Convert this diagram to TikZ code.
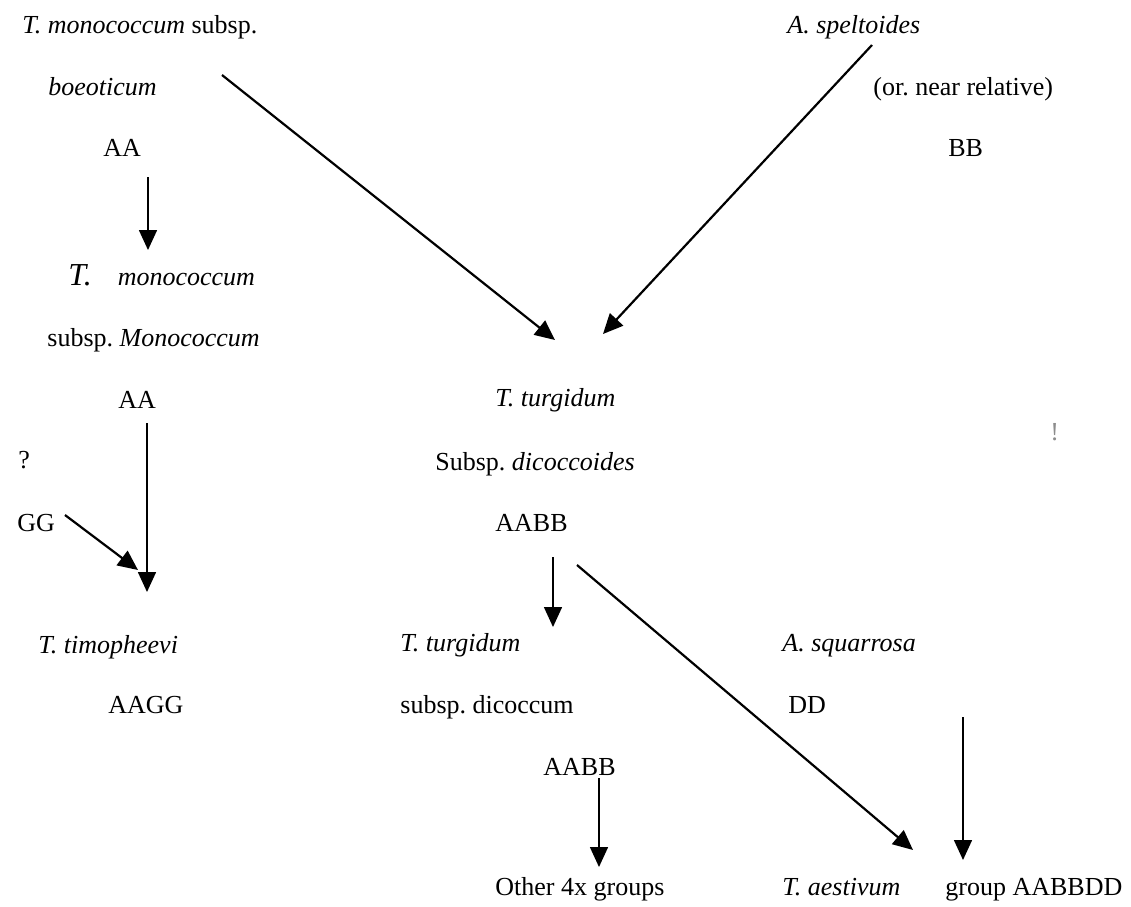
\documentclass[tikz,border=0pt]{standalone}
\usepackage{fontspec}
\setmainfont{Liberation Serif}
\usetikzlibrary{arrows.meta}
\frenchspacing
\tikzset{
  lbl/.style={anchor=base west, inner sep=0pt, font=\fontsize{13pt}{15pt}\selectfont},
  conn/.style={draw=black, line width=0.8pt, -{Triangle[length=10pt,width=9pt]}},
  diag/.style={conn, line width=1.1pt}
}
\begin{document}
\begin{tikzpicture}[x=0.5pt,y=-0.5pt]
\useasboundingbox (0,0) rectangle (1131,906);
% text labels (left x, baseline y)
\node[lbl] (tmono) at (22,33) {\textit{T. monococcum} subsp.};
\node[lbl] (boeo) at (48,95) {\textit{boeoticum}};
\node[lbl] (aa1) at (103,156) {AA};
\node[lbl] (tmono2) at (68,285) {\textit{{\fontsize{16pt}{18pt}\selectfont T.}\quad monococcum}};
\node[lbl] (submono) at (47,346) {subsp. \textit{Monococcum}};
\node[lbl] (aa2) at (118,408) {AA};
\node[lbl] (q) at (18,468) {?};
\node[lbl] (gg) at (17,531) {GG};
\node[lbl] (ttimo) at (38,653) {\textit{T. timopheevi}};
\node[lbl] (aagg) at (108,713) {AAGG};
\node[lbl] (aspel) at (787,33) {\textit{A. speltoides}};
\node[lbl] (near) at (873,95) {(or. near relative)};
\node[lbl] (bb) at (948,156) {BB};
\node[lbl] (tturg) at (495,406) {\textit{T. turgidum}};
\node[lbl] (dicoides) at (435,470) {Subsp. \textit{dicoccoides}};
\node[lbl] (aabb1) at (495,531) {AABB};
\node[lbl] (tturg2) at (400,651) {\textit{T. turgidum}};
\node[lbl] (dicoccum) at (400,713) {subsp. dicoccum};
\node[lbl] (aabb2) at (543,775) {AABB};
\node[lbl] (other) at (495,895) {Other 4x groups};
\node[lbl] (asq) at (782,651) {\textit{A. squarrosa}};
\node[lbl] (dd) at (788,713) {DD};
\node[lbl] (taest) at (782,895) {\textit{T. aestivum}};
\node[lbl] (grp) at (945,895) {group AABBDD};
\node[lbl, text=black!45] (mark) at (1050,440) {!};
% arrow end points
\coordinate (a1s) at (148,177); \coordinate (a1e) at (148,250);
\coordinate (a2s) at (222,75);  \coordinate (a2e) at (555,340);
\coordinate (a3s) at (872,45);  \coordinate (a3e) at (603,334);
\coordinate (a4s) at (147,423); \coordinate (a4e) at (147,592);
\coordinate (a5s) at (65,515);  \coordinate (a5e) at (138,570);
\coordinate (a6s) at (553,557); \coordinate (a6e) at (553,627);
\coordinate (a7s) at (577,565); \coordinate (a7e) at (913,850);
\coordinate (a8s) at (599,778); \coordinate (a8e) at (599,867);
\coordinate (a9s) at (963,717); \coordinate (a9e) at (963,860);
\draw[conn] (a1s) -- (a1e);
\draw[diag] (a2s) -- (a2e);
\draw[diag] (a3s) -- (a3e);
\draw[conn] (a4s) -- (a4e);
\draw[diag] (a5s) -- (a5e);
\draw[conn] (a6s) -- (a6e);
\draw[diag] (a7s) -- (a7e);
\draw[conn] (a8s) -- (a8e);
\draw[conn] (a9s) -- (a9e);
\end{tikzpicture}
\end{document}
